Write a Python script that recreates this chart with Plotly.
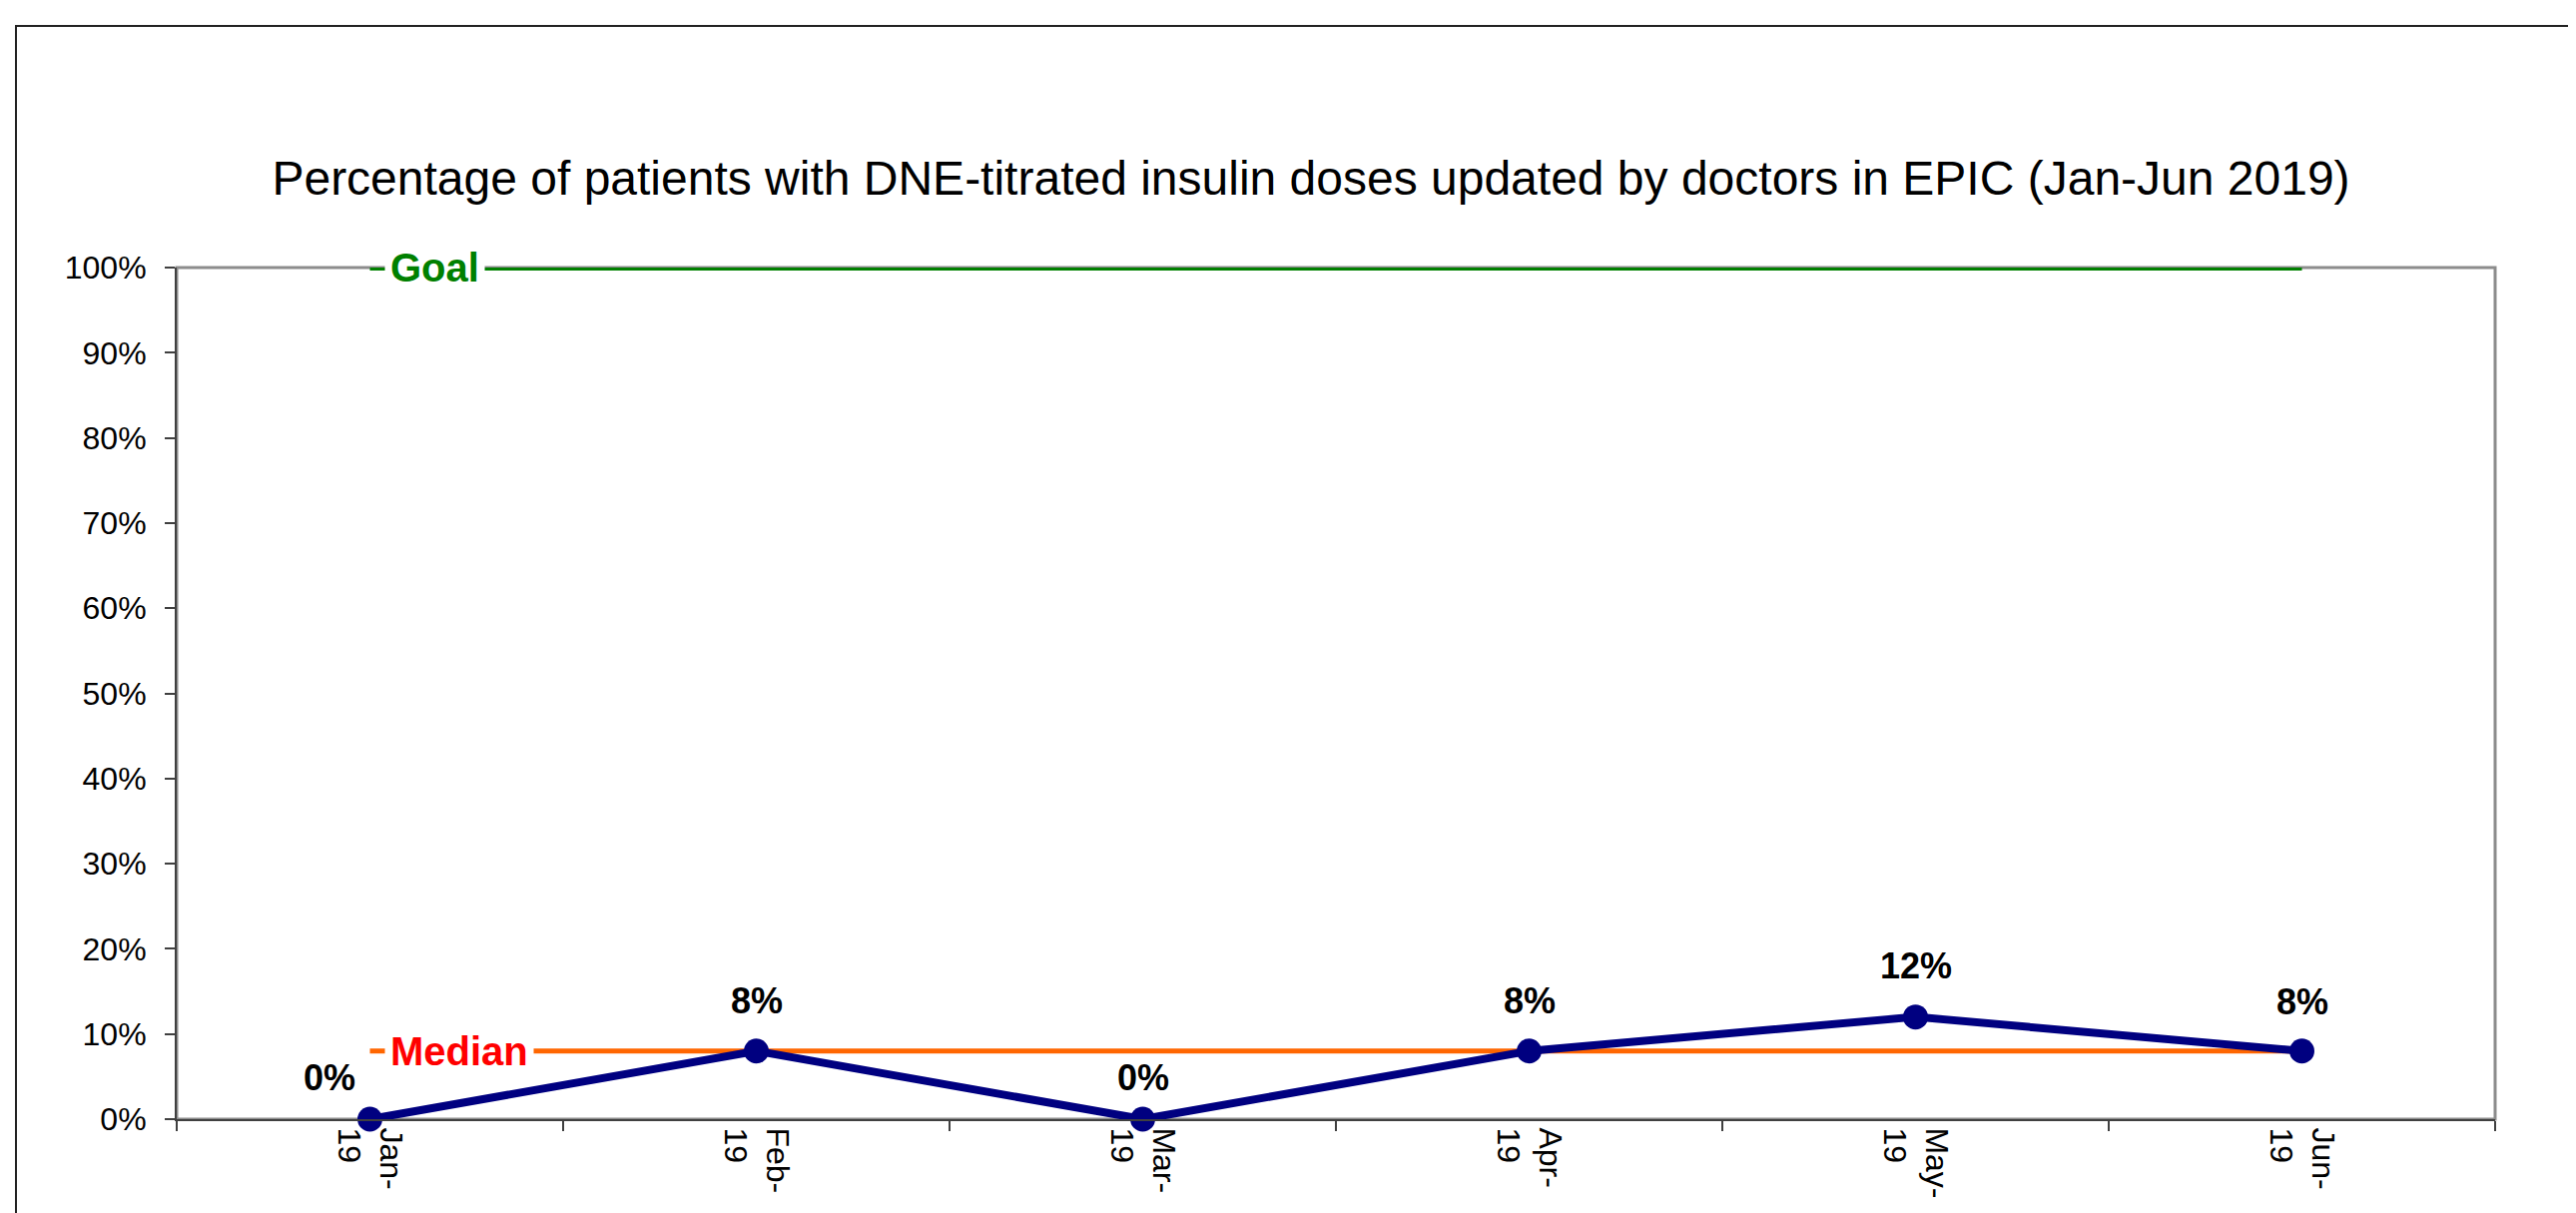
import plotly.graph_objects as go

# ---- data ----
months = ["Jan-19", "Feb-19", "Mar-19", "Apr-19", "May-19", "Jun-19"]
tick_text = ["Jan-<br>19", "Feb-<br>19", "Mar-<br>19", "Apr-<br>19", "May-<br>19", "Jun-<br>19"]
pct_updated = [0.00, 0.08, 0.00, 0.08, 0.12, 0.08]
goal_value = 1.00
median_value = 0.08
goal_series = [goal_value] * len(months)
median_series = [median_value] * len(months)
y_ticks = [i / 10 for i in range(11)]
title_text = "Percentage of patients with DNE-titrated insulin doses updated by doctors in EPIC (Jan-Jun 2019)"

FONT = "Arial, 'Liberation Sans', sans-serif"
OFF = 8  # page body margin
W, H = 2580 - OFF, 1215 - OFF
ML, MR, MT, MB = 177 - OFF, 81, 268 - OFF, 94
PW, PH = W - ML - MR, H - MT - MB

fig = go.Figure()

# goal line sits on the top edge of the plot area (outer half is clipped)
fig.add_trace(go.Scatter(
    x=months, y=goal_series, mode="lines",
    line=dict(color="#008000", width=6), cliponaxis=False,
    hoverinfo="skip", showlegend=False))
fig.add_trace(go.Scatter(
    x=months, y=median_series, mode="lines",
    line=dict(color="#FF6600", width=5), cliponaxis=False,
    hoverinfo="skip", showlegend=False))
fig.add_trace(go.Scatter(
    x=months, y=pct_updated, mode="lines+markers",
    line=dict(color="#000080", width=8),
    marker=dict(color="#000080", size=25),
    cliponaxis=False, showlegend=False))

annotations = []
# data labels
label_xshift = [-41, 0, 0, 0, 0, 0]
label_yshift = [42, 50, 42, 50, 51, 49]
for i, (m, v) in enumerate(zip(months, pct_updated)):
    annotations.append(dict(
        x=m, y=v, xref="x", yref="y", text=f"<b>{round(v*100)}%</b>",
        showarrow=False, xanchor="center", yanchor="middle",
        xshift=label_xshift[i], yshift=label_yshift[i],
        font=dict(family=FONT, size=36, color="#000000")))
# series labels
annotations.append(dict(
    x=months[0], y=goal_value, xref="x", yref="y", text="<b>Goal</b>",
    showarrow=False, xanchor="left", yanchor="middle", xshift=14,
    bgcolor="#FFFFFF", borderpad=5,
    font=dict(family=FONT, size=40, color="#008000")))
annotations.append(dict(
    x=months[0], y=median_value, xref="x", yref="y", text="<b>Median</b>",
    showarrow=False, xanchor="left", yanchor="middle", xshift=14,
    bgcolor="#FFFFFF", borderpad=5,
    font=dict(family=FONT, size=40, color="#FF0000")))

shapes = [
    # plot area border
    dict(type="rect", xref="paper", yref="paper", x0=0, x1=1, y0=0, y1=1,
         line=dict(color="#8C8C8C", width=3), layer="below"),
    # outer chart border (extends beyond the picture on right/bottom)
    dict(type="rect", xref="paper", yref="paper",
         x0=(16 - OFF - ML) / PW, x1=(W + 40 - ML) / PW,
         y0=-(MB + 40) / PH, y1=(H - (26 - OFF) - MB) / PH,
         line=dict(color="#222222", width=2), layer="below"),
]

fig.update_layout(
    width=W, height=H,
    margin=dict(l=ML, r=MR, t=MT, b=MB),
    paper_bgcolor="#FFFFFF", plot_bgcolor="#FFFFFF",
    title=dict(text=title_text, x=(1313 - OFF) / W, xanchor="center",
               y=1 - (178 - OFF) / H, yanchor="middle", yref="container",
               font=dict(family=FONT, size=48, color="#000000")),
    annotations=annotations, shapes=shapes,
    font=dict(family=FONT, color="#000000"),
)

fig.update_xaxes(
    type="category", categoryorder="array", categoryarray=months,
    tickvals=months, ticktext=tick_text, tickangle=90,
    range=[-0.5, len(months) - 0.5],
    showline=True, linecolor="#404040", linewidth=2,
    ticks="outside", tickson="boundaries", ticklen=10, tickcolor="#404040", tickwidth=2,
    showgrid=False, zeroline=False,
    tickfont=dict(family=FONT, size=32, color="#000000"))

fig.update_yaxes(
    range=[0, 1], tickvals=y_ticks, tickformat=".0%",
    showline=True, linecolor="#404040", linewidth=2,
    ticks="outside", ticklen=10, tickcolor="#404040", tickwidth=2,
    showgrid=False, zeroline=False, ticklabelstandoff=12,
    tickfont=dict(family=FONT, size=32, color="#000000"))

fig.write_html("out.html")
